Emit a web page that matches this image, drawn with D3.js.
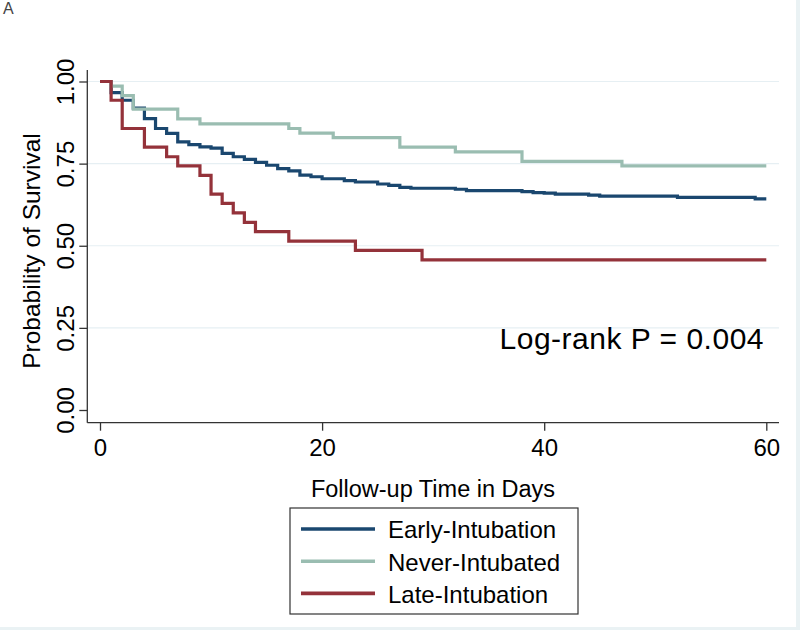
<!DOCTYPE html>
<html>
<head>
<meta charset="utf-8">
<script src="https://cdn.jsdelivr.net/npm/d3@7"></script>
<style>
  html, body { margin: 0; padding: 0; background: #ffffff; }
  svg { display: block; font-family: "Liberation Sans", Arial, Helvetica, sans-serif; }
</style>
</head>
<body>
<svg id="chart" width="800" height="630"></svg>
<script>
// ---- Data ----
const seriesNames = ["Early-Intubation", "Never-Intubated", "Late-Intubation"];
const seriesColors = ["#1a476f", "#9abdb1", "#94323a"];

const earlyTime = [0,1,2,3,4,5,6,7,8,9,10,11,12,13,14,15,16,17,18,19,20,22,23,25,26,27,28,32,33,38,39,40,41,44,45,52,59,60];
const earlySurv = [1,0.966,0.943,0.919,0.887,0.857,0.842,0.816,0.808,0.801,0.797,0.781,0.771,0.763,0.754,0.745,0.735,0.728,0.715,0.710,0.704,0.698,0.694,0.688,0.684,0.678,0.675,0.672,0.668,0.665,0.662,0.660,0.657,0.654,0.651,0.647,0.643,0.643];

const neverTime = [0,1,2,3,7,9,17,18,21,27,32,38,47,60];
const neverSurv = [1,0.986,0.957,0.916,0.886,0.871,0.857,0.843,0.829,0.800,0.786,0.757,0.743,0.743];

const lateTime = [0,1,2,4,6,7,9,10,11,12,13,14,17,23,29,60];
const lateSurv = [1,0.943,0.857,0.800,0.771,0.743,0.714,0.657,0.629,0.600,0.571,0.543,0.514,0.486,0.457,0.457];

const xTicks = [0, 20, 40, 60];
const yTicks = [0, 0.25, 0.5, 0.75, 1];
const xTitle = "Follow-up Time in Days";
const yTitle = "Probability of Survival";
const annotation = "Log-rank P = 0.004";
const panelLabel = "A";

// ---- Build ----
const svg = d3.select("#chart");

// outer light strip (graph region edge)
svg.append("rect").attr("x", 796).attr("y", 0).attr("width", 4).attr("height", 630).attr("fill", "#eaf2f4");
svg.append("rect").attr("x", 0).attr("y", 627).attr("width", 800).attr("height", 3).attr("fill", "#eaf2f4");

const x = d3.scaleLinear().domain([0, 60]).range([100, 766.3]);
const y = d3.scaleLinear().domain([0, 1]).range([410, 81.5]);

const plotLeft = 87.3, plotRight = 779, plotBottom = 422.7, plotTop = 70;

// panel label
svg.append("text").attr("x", 3).attr("y", 14)
  .attr("font-size", 16).attr("fill", "#444").text(panelLabel);

// gridlines
svg.append("g").selectAll("line")
  .data(yTicks.filter(d => d > 0))
  .join("line")
  .attr("x1", plotLeft).attr("x2", plotRight)
  .attr("y1", d => y(d)).attr("y2", d => y(d))
  .attr("stroke", "#e6eff3").attr("stroke-width", 1.2);

// axes
const axisColor = "#333";
const yAxis = d3.axisLeft(y).tickValues(yTicks).tickSize(8).tickFormat(d3.format(".2f"));
const gy = svg.append("g").attr("transform", `translate(${plotLeft},0)`).call(yAxis);
gy.select(".domain").remove();
gy.selectAll(".tick line").attr("stroke", axisColor).attr("stroke-width", 1.3);
gy.selectAll(".tick text").remove();
gy.selectAll(".tick").append("text")
  .attr("transform", "translate(-13.5,0) rotate(-90)")
  .attr("text-anchor", "middle")
  .attr("font-size", 24)
  .attr("fill", "#000")
  .attr("font-family", "Liberation Sans, Arial, sans-serif")
  .text(d => d3.format(".2f")(d));

svg.append("line").attr("x1", plotLeft).attr("x2", plotLeft)
  .attr("y1", plotTop).attr("y2", plotBottom)
  .attr("stroke", axisColor).attr("stroke-width", 1.3);

const xAxis = d3.axisBottom(x).tickValues(xTicks).tickSize(8).tickPadding(8);
const gx = svg.append("g").attr("transform", `translate(0,${plotBottom})`).call(xAxis);
gx.select(".domain").remove();
gx.selectAll(".tick line").attr("stroke", axisColor).attr("stroke-width", 1.3);
gx.selectAll(".tick text").attr("font-size", 24).attr("fill", "#000")
  .attr("font-family", "Liberation Sans, Arial, sans-serif");

svg.append("line").attr("x1", plotLeft).attr("x2", plotRight)
  .attr("y1", plotBottom).attr("y2", plotBottom)
  .attr("stroke", axisColor).attr("stroke-width", 1.3);

// axis titles
svg.append("text").attr("x", 433).attr("y", 497)
  .attr("text-anchor", "middle").attr("font-size", 23.5).attr("fill", "#000").text(xTitle);
svg.append("text").attr("transform", "translate(39.5,251) rotate(-90)")
  .attr("text-anchor", "middle").attr("font-size", 24.5).attr("fill", "#000").text(yTitle);

// curves
const series = [
  { name: seriesNames[0], color: seriesColors[0], t: earlyTime, s: earlySurv },
  { name: seriesNames[1], color: seriesColors[1], t: neverTime, s: neverSurv },
  { name: seriesNames[2], color: seriesColors[2], t: lateTime, s: lateSurv }
];
const line = d3.line().curve(d3.curveStepAfter).x(d => x(d[0])).y(d => y(d[1]));
svg.append("g").selectAll("path")
  .data(series)
  .join("path")
  .attr("d", d => line(d.t.map((t, i) => [t, d.s[i]])))
  .attr("fill", "none")
  .attr("stroke", d => d.color)
  .attr("stroke-width", 3.2)
  .attr("stroke-linejoin", "miter")
  .attr("stroke-linecap", "butt");

// annotation
svg.append("text").attr("x", 764).attr("y", 349)
  .attr("text-anchor", "end").attr("font-size", 30).attr("letter-spacing", 0.5)
  .attr("fill", "#000").text(annotation);

// legend
const lg = svg.append("g");
lg.append("rect").attr("x", 290).attr("y", 508).attr("width", 288).attr("height", 106)
  .attr("fill", "#fff").attr("stroke", "#333").attr("stroke-width", 1.2);
const items = lg.selectAll("g.item").data(series).join("g")
  .attr("class", "item")
  .attr("transform", (d, i) => `translate(0,${529 + i * 32.2})`);
items.append("line").attr("x1", 301).attr("x2", 375).attr("y1", 0).attr("y2", 0)
  .attr("stroke", d => d.color).attr("stroke-width", 3.6);
items.append("text").attr("x", 388).attr("y", 9.3)
  .attr("font-size", 24).attr("fill", "#000").text(d => d.name);
</script>
</body>
</html>
